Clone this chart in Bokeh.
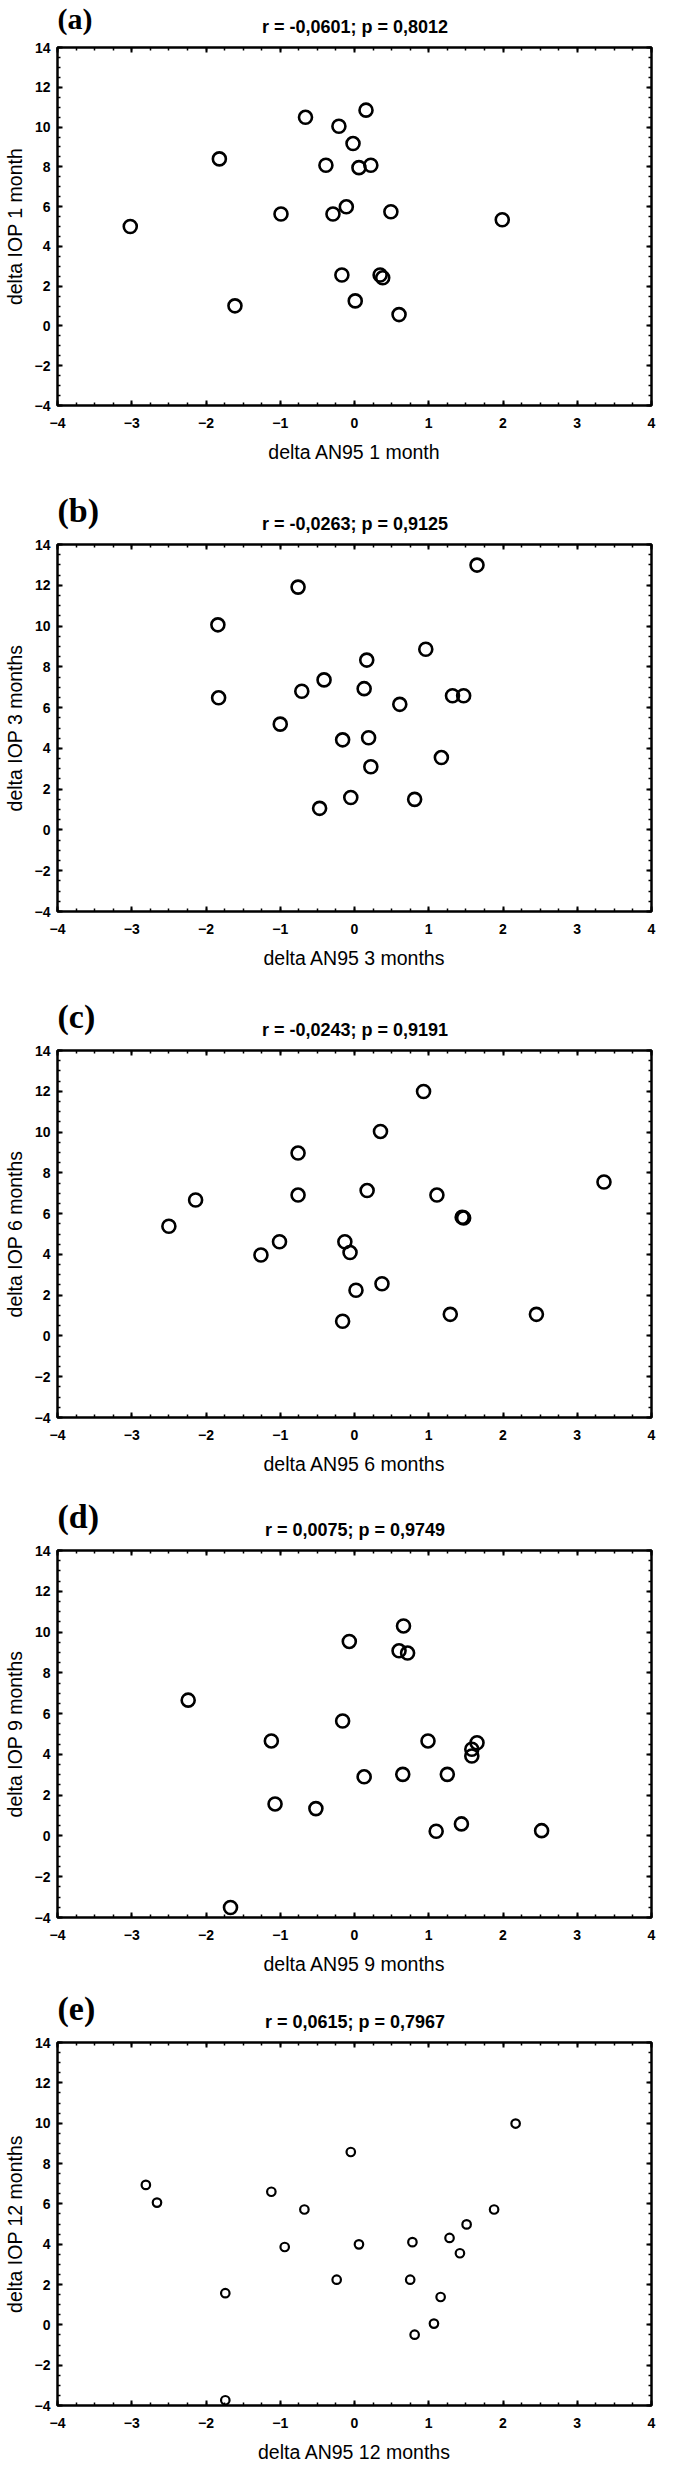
from bokeh.plotting import figure
from bokeh.layouts import column
from bokeh.models import Range1d, LinearAxis, FixedTicker
from bokeh.core.properties import value
from bokeh.embed import file_html
from bokeh.resources import INLINE

# ---------------- data ----------------
panel_tags = ["(a)", "(b)", "(c)", "(d)", "(e)"]
stat_titles = [
    "r = -0,0601; p = 0,8012",
    "r = -0,0263; p = 0,9125",
    "r = -0,0243; p = 0,9191",
    "r = 0,0075; p = 0,9749",
    "r = 0,0615; p = 0,7967",
]
x_titles = ["delta AN95 1 month", "delta AN95 3 months", "delta AN95 6 months",
            "delta AN95 9 months", "delta AN95 12 months"]
y_titles = ["delta IOP 1 month", "delta IOP 3 months", "delta IOP 6 months",
            "delta IOP 9 months", "delta IOP 12 months"]
x_ticks = [-4, -3, -2, -1, 0, 1, 2, 3, 4]
y_ticks = [-4, -2, 0, 2, 4, 6, 8, 10, 12, 14]

an95_1m = [-3.02, -1.82, -1.61, -0.99, -0.66, -0.385, -0.29, -0.21, -0.17, -0.11,
           -0.02, 0.01, 0.06, 0.155, 0.22, 0.345, 0.38, 0.49, 0.60, 1.99]
iop_1m = [5.0, 8.40, 1.01, 5.63, 10.49, 8.08, 5.63, 10.04, 2.56, 5.99,
          9.17, 1.26, 7.96, 10.85, 8.08, 2.56, 2.42, 5.74, 0.57, 5.34]

an95_3m = [-1.84, -1.83, -1.00, -0.76, -0.71, -0.47, -0.41, -0.16, -0.05, 0.13,
           0.165, 0.19, 0.22, 0.61, 0.81, 0.96, 1.17, 1.32, 1.47, 1.65]
iop_3m = [10.06, 6.48, 5.19, 11.91, 6.80, 1.06, 7.36, 4.42, 1.59, 6.93,
          8.33, 4.52, 3.10, 6.16, 1.50, 8.86, 3.55, 6.58, 6.58, 12.99]

an95_6m = [-2.50, -2.14, -1.26, -1.01, -0.76, -0.76, -0.16, -0.13, -0.06, 0.02,
           0.17, 0.35, 0.37, 0.93, 1.11, 1.29, 1.45, 1.47, 2.45, 3.36]
iop_6m = [5.38, 6.67, 3.97, 4.62, 8.97, 6.91, 0.72, 4.62, 4.09, 2.24,
          7.13, 10.03, 2.56, 11.99, 6.91, 1.06, 5.82, 5.79, 1.06, 7.55]

an95_9m = [-2.24, -1.67, -1.12, -1.07, -0.52, -0.16, -0.07, 0.13, 0.60, 0.66,
           0.715, 0.65, 0.99, 1.10, 1.25, 1.44, 1.58, 1.58, 1.65, 2.52]
iop_9m = [6.66, -3.51, 4.66, 1.57, 1.34, 5.64, 9.54, 2.90, 9.08, 10.30,
          8.97, 3.02, 4.66, 0.23, 3.02, 0.59, 3.92, 4.25, 4.57, 0.26]

an95_12m = [-2.81, -2.66, -1.74, -1.74, -1.12, -0.94, -0.675, -0.24, -0.05, 0.06,
            0.75, 0.78, 0.81, 1.07, 1.16, 1.28, 1.42, 1.51, 1.88, 2.17]
iop_12m = [6.94, 6.06, 1.57, -3.74, 6.60, 3.86, 5.72, 2.24, 8.57, 3.99,
           2.24, 4.10, -0.49, 0.06, 1.38, 4.31, 3.55, 4.98, 5.72, 9.98]

xs_all = [an95_1m, an95_3m, an95_6m, an95_9m, an95_12m]
ys_all = [iop_1m, iop_3m, iop_6m, iop_9m, iop_12m]

# ---------------- layout / style ----------------
W = 659
SANS = "Liberation Sans"
SERIF = "Liberation Serif"
TOP = 10
header_heights = [37, 50, 50, 50, 50]
frame_heights = [358, 367, 367, 367, 364]
bottom_borders = [79, 79, 73, 65, 59]
marker_sizes = [13, 13, 13, 13, 8.5]
marker_widths = [2.6, 2.6, 2.6, 2.6, 2.2]

x_minor = [-4 + 0.25 * i for i in range(33)]
y_minor = [-4 + 0.5 * i for i in range(37)]


def style_axis(ax, ticker, show_labels):
    ax.ticker = ticker
    ax.major_tick_in = 5
    ax.major_tick_out = 0
    ax.minor_tick_in = 3
    ax.minor_tick_out = 0
    ax.major_tick_line_width = 2
    ax.minor_tick_line_width = 1.5
    ax.major_tick_line_color = "black"
    ax.minor_tick_line_color = "black"
    ax.axis_line_color = None
    if show_labels:
        ax.major_label_text_font = SANS
        ax.major_label_text_font_style = "bold"
        ax.major_label_text_font_size = "14px"
        ax.major_label_text_color = "black"
        ax.axis_label_text_font = SANS
        ax.axis_label_text_font_style = "normal"
        ax.axis_label_text_font_size = "19.5px"
        ax.axis_label_text_color = "black"
    else:
        ax.major_label_text_color = None
        ax.major_label_text_font_size = "1px"
        ax.major_label_standoff = 0


blocks = []
for i in range(5):
    hh = header_heights[i]
    # header strip with panel tag and statistics title
    hd = figure(width=W, height=hh, x_range=Range1d(0, W), y_range=Range1d(0, hh),
                output_backend="svg", toolbar_location=None, title=None,
                x_axis_type=None, y_axis_type=None, min_border=0,
                outline_line_color=None)
    if i == 0:
        hd.text(x=[0], y=[hh - 1], text=[panel_tags[i]], text_font=value(SERIF),
                text_font_style="bold", text_font_size="30px", text_color="black",
                text_baseline="top", text_align="left")
    else:
        hd.text(x=[0], y=[6], text=[panel_tags[i]], text_font=value(SERIF),
                text_font_style="bold", text_font_size="34px", text_color="black",
                text_baseline="bottom", text_align="left")
    hd.text(x=[330], y=[11], text=[stat_titles[i]], text_font=value(SANS),
            text_font_style="bold", text_font_size="18px", text_color="black",
            text_baseline="middle", text_align="center")
    blocks.append(hd)

    xt = FixedTicker(ticks=x_ticks, minor_ticks=x_minor)
    yt = FixedTicker(ticks=y_ticks, minor_ticks=y_minor)
    ph = TOP + frame_heights[i] + bottom_borders[i]
    p = figure(width=W, height=ph,
               x_range=Range1d(-4, 4), y_range=Range1d(-4, 14),
               output_backend="svg", toolbar_location=None, title=None,
               min_border_left=52, min_border_right=8,
               min_border_top=TOP, min_border_bottom=bottom_borders[i],
               x_axis_label=x_titles[i], y_axis_label=y_titles[i])
    p.grid.visible = False
    p.outline_line_color = "black"
    p.outline_line_width = 2.5
    p.background_fill_color = "white"
    p.border_fill_color = "white"

    style_axis(p.xaxis[0], xt, True)
    style_axis(p.yaxis[0], yt, True)
    p.xaxis[0].major_label_standoff = 12
    p.xaxis[0].axis_label_standoff = 10
    p.yaxis[0].major_label_standoff = 7
    p.yaxis[0].axis_label_standoff = 6

    top_ax = LinearAxis()
    style_axis(top_ax, FixedTicker(ticks=x_ticks, minor_ticks=x_minor), False)
    p.add_layout(top_ax, "above")
    right_ax = LinearAxis()
    style_axis(right_ax, FixedTicker(ticks=y_ticks, minor_ticks=y_minor), False)
    p.add_layout(right_ax, "right")

    p.scatter(xs_all[i], ys_all[i], marker="circle", size=marker_sizes[i],
              fill_color=None, line_color="black", line_width=marker_widths[i])
    blocks.append(p)

layout = column(*blocks)
open("out.html", "w").write(file_html(layout, INLINE))
